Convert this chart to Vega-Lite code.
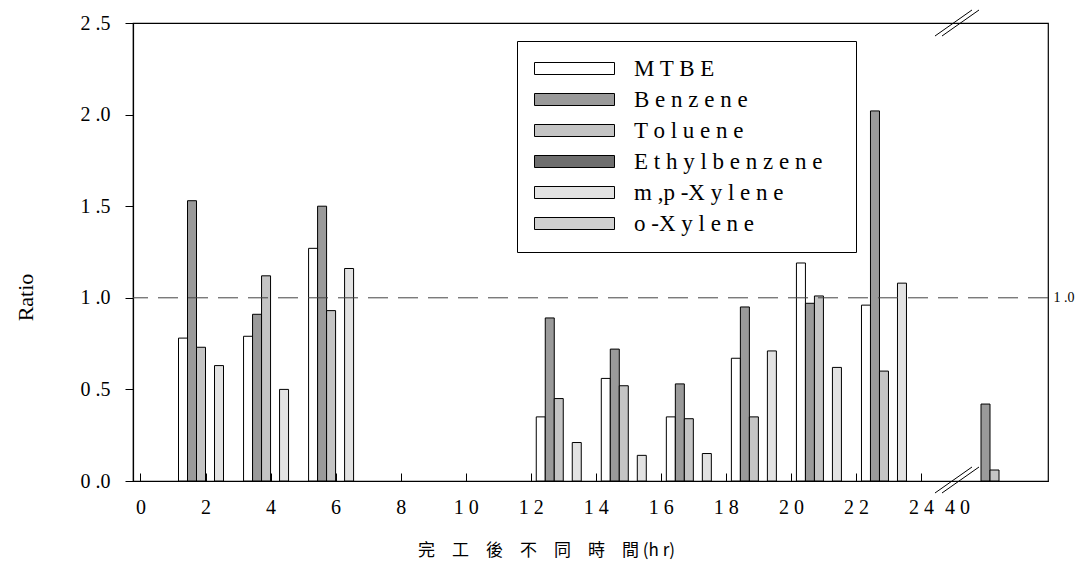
{
  "$schema": "https://vega.github.io/schema/vega-lite/v6.json",
  "width": 915,
  "height": 458,
  "autosize": "none",
  "padding": {"left": 133, "top": 23, "right": 41, "bottom": 88},
  "background": "white",
  "config": {
    "font": "Liberation Serif",
    "view": {"stroke": "black", "strokeWidth": 1.2},
    "axis": {"domainColor": "black", "domainWidth": 1.2, "tickColor": "black", "labelColor": "black", "titleColor": "black", "grid": false, "labelFont": "Liberation Serif", "titleFontWeight": "normal"}
  },
  "data": {"values": [
    {"hour": 2, "species": "MTBE", "ratio": 0.78},
    {"hour": 2, "species": "Benzene", "ratio": 1.53},
    {"hour": 2, "species": "Toluene", "ratio": 0.73},
    {"hour": 2, "species": "m,p-Xylene", "ratio": 0.63},
    {"hour": 4, "species": "MTBE", "ratio": 0.79},
    {"hour": 4, "species": "Benzene", "ratio": 0.91},
    {"hour": 4, "species": "Toluene", "ratio": 1.12},
    {"hour": 4, "species": "m,p-Xylene", "ratio": 0.50},
    {"hour": 6, "species": "MTBE", "ratio": 1.27},
    {"hour": 6, "species": "Benzene", "ratio": 1.50},
    {"hour": 6, "species": "Toluene", "ratio": 0.93},
    {"hour": 6, "species": "m,p-Xylene", "ratio": 1.16},
    {"hour": 13, "species": "MTBE", "ratio": 0.35},
    {"hour": 13, "species": "Benzene", "ratio": 0.89},
    {"hour": 13, "species": "Toluene", "ratio": 0.45},
    {"hour": 13, "species": "m,p-Xylene", "ratio": 0.21},
    {"hour": 15, "species": "MTBE", "ratio": 0.56},
    {"hour": 15, "species": "Benzene", "ratio": 0.72},
    {"hour": 15, "species": "Toluene", "ratio": 0.52},
    {"hour": 15, "species": "m,p-Xylene", "ratio": 0.14},
    {"hour": 17, "species": "MTBE", "ratio": 0.35},
    {"hour": 17, "species": "Benzene", "ratio": 0.53},
    {"hour": 17, "species": "Toluene", "ratio": 0.34},
    {"hour": 17, "species": "m,p-Xylene", "ratio": 0.15},
    {"hour": 19, "species": "MTBE", "ratio": 0.67},
    {"hour": 19, "species": "Benzene", "ratio": 0.95},
    {"hour": 19, "species": "Toluene", "ratio": 0.35},
    {"hour": 19, "species": "m,p-Xylene", "ratio": 0.71},
    {"hour": 21, "species": "MTBE", "ratio": 1.19},
    {"hour": 21, "species": "Benzene", "ratio": 0.97},
    {"hour": 21, "species": "Toluene", "ratio": 1.01},
    {"hour": 21, "species": "m,p-Xylene", "ratio": 0.62},
    {"hour": 23, "species": "MTBE", "ratio": 0.96},
    {"hour": 23, "species": "Benzene", "ratio": 2.02},
    {"hour": 23, "species": "Toluene", "ratio": 0.60},
    {"hour": 23, "species": "m,p-Xylene", "ratio": 1.08},
    {"hour": 40, "species": "Benzene", "ratio": 0.42},
    {"hour": 40, "species": "Toluene", "ratio": 0.06}
  ]},
  "layer": [
    {
      "encoding": {
        "x": {
          "field": "hour", "type": "quantitative",
          "scale": {"type": "linear", "domain": [0, 24, 40, 41.5], "range": [0, 788, 866, 915], "nice": false, "zero": false},
          "axis": {
            "values": [0, 2, 4, 6, 8, 10, 12, 14, 16, 18, 20, 22, 24, 40],
            "format": "d",
            "labelExpr": "datum.value >= 10 ? slice(datum.label, 0, 1) + ' ' + slice(datum.label, 1) : datum.label",
            "labelOffset": {"condition": {"test": "datum.value == 40", "value": -42}, "value": 0},
            "tickOpacity": {"condition": {"test": "datum.value == 40", "value": 0}, "value": 1},
            "tickSize": -8,
            "labelPadding": 24,
            "labelFlush": false,
            "labelOverlap": false,
            "labelFontSize": 20,
            "title": "完　工　後　不　同　時　間 (h r)",
            "titleFont": "Noto Sans CJK TC",
            "titleFontSize": 17,
            "titleX": 413,
            "titleY": 69,
            "titleBaseline": "middle",
            "titleAlign": "center"
          }
        },
        "y": {
          "field": "ratio", "type": "quantitative",
          "scale": {"domain": [0, 2.5], "nice": false},
          "axis": {
            "values": [0, 0.5, 1, 1.5, 2, 2.5],
            "format": ".1f",
            "labelExpr": "replace(datum.label, '.', ' .')",
            "tickSize": 8,
            "labelPadding": 15,
            "labelFontSize": 20,
            "title": "Ratio",
            "titleFont": "Liberation Serif",
            "titleFontSize": 22,
            "titleX": -108,
            "titleY": 274,
            "titleAngle": 270,
            "titleBaseline": "middle",
            "titleAlign": "center"
          }
        },
        "fill": {
          "field": "species", "type": "nominal",
          "scale": {
            "domain": ["MTBE", "Benzene", "Toluene", "Ethylbenzene", "m,p-Xylene", "o-Xylene"],
            "range": ["#ffffff", "#9a9a9a", "#c4c4c4", "#6e6e6e", "#e2e2e2", "#d0d0d0"]
          },
          "legend": {
            "orient": "none",
            "legendX": 384,
            "legendY": 18,
            "title": null,
            "strokeColor": "black",
            "fillColor": "white",
            "padding": 16,
            "symbolType": "M-4,-0.6H4V0.6H-4Z",
            "symbolSize": 400,
            "symbolOffset": 30,
            "symbolStrokeColor": "black",
            "symbolStrokeWidth": 1,
            "labelOffset": 48,
            "rowPadding": 7,
            "labelFont": "Liberation Serif",
            "labelFontSize": 23,
            "labelColor": "black",
            "labelLimit": 400,
            "labelExpr": "datum.label == 'MTBE' ? 'M T B E' : datum.label == 'Benzene' ? 'B e n z e n e' : datum.label == 'Toluene' ? 'T o l u e n e' : datum.label == 'Ethylbenzene' ? 'E t h y l b e n z e n e\u2800' : datum.label == 'm,p-Xylene' ? 'm ,p -X y l e n e' : 'o -X y l e n e'"
          }
        }
      },
      "layer": [
        {"transform": [{"filter": "datum.species == 'MTBE'"}], "mark": {"type": "bar", "width": 9, "xOffset": -22.5, "stroke": "black", "strokeWidth": 1}},
        {"transform": [{"filter": "datum.species == 'Benzene'"}], "mark": {"type": "bar", "width": 9, "xOffset": -13.5, "stroke": "black", "strokeWidth": 1}},
        {"transform": [{"filter": "datum.species == 'Toluene'"}], "mark": {"type": "bar", "width": 9, "xOffset": -4.5, "stroke": "black", "strokeWidth": 1}},
        {"transform": [{"filter": "datum.species == 'Ethylbenzene'"}], "mark": {"type": "bar", "width": 9, "xOffset": 4.5, "stroke": "black", "strokeWidth": 1}},
        {"transform": [{"filter": "datum.species == 'm,p-Xylene'"}], "mark": {"type": "bar", "width": 9, "xOffset": 13.5, "stroke": "black", "strokeWidth": 1}},
        {"transform": [{"filter": "datum.species == 'o-Xylene'"}], "mark": {"type": "bar", "width": 9, "xOffset": 22.5, "stroke": "black", "strokeWidth": 1}}
      ]
    },
    {
      "data": {"values": [{}]},
      "mark": {"type": "rule", "color": "#444444", "strokeWidth": 1, "strokeDash": [20, 10]},
      "encoding": {"y": {"datum": 1, "type": "quantitative"}}
    },
    {
      "data": {"values": [{}]},
      "mark": {"type": "text", "align": "left", "baseline": "middle", "dx": 12, "fontSize": 14, "font": "Liberation Serif", "color": "black", "text": "1 .0"},
      "encoding": {"x": {"datum": 41.5, "type": "quantitative"}, "y": {"datum": 1, "type": "quantitative"}}
    },
    {
      "data": {"values": [{}]},
      "mark": {"type": "rule", "color": "black", "strokeWidth": 1},
      "encoding": {"x": {"datum": 26.87, "type": "quantitative"}, "x2": {"datum": 34.46}, "y": {"datum": 2.429, "type": "quantitative"}, "y2": {"datum": 2.571}}
    },
    {
      "data": {"values": [{}]},
      "mark": {"type": "rule", "color": "black", "strokeWidth": 1},
      "encoding": {"x": {"datum": 28.31, "type": "quantitative"}, "x2": {"datum": 35.9}, "y": {"datum": 2.429, "type": "quantitative"}, "y2": {"datum": 2.571}}
    },
    {
      "data": {"values": [{}]},
      "mark": {"type": "rule", "color": "black", "strokeWidth": 1},
      "encoding": {"x": {"datum": 26.87, "type": "quantitative"}, "x2": {"datum": 34.46}, "y": {"datum": -0.0655, "type": "quantitative"}, "y2": {"datum": 0.0764}}
    },
    {
      "data": {"values": [{}]},
      "mark": {"type": "rule", "color": "black", "strokeWidth": 1},
      "encoding": {"x": {"datum": 28.31, "type": "quantitative"}, "x2": {"datum": 35.9}, "y": {"datum": -0.0655, "type": "quantitative"}, "y2": {"datum": 0.0764}}
    }
  ]
}
